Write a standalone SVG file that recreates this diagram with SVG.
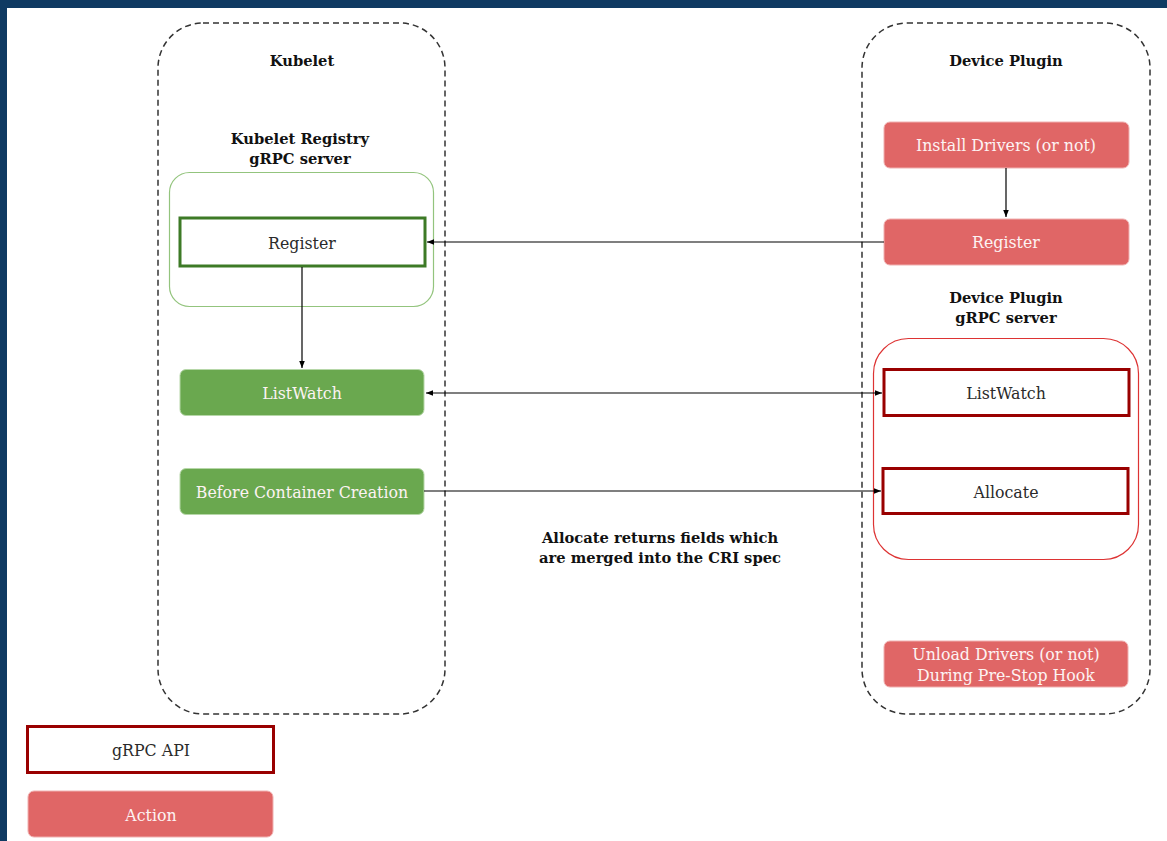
<svg xmlns="http://www.w3.org/2000/svg" width="1167" height="841" viewBox="0 0 1167 841">
<defs>
<marker id="ah" viewBox="0 0 10 10" refX="10" refY="5" markerWidth="7" markerHeight="7" orient="auto-start-reverse" markerUnits="userSpaceOnUse">
<path d="M0,1 L10,5 L0,9 z" fill="#000"/>
</marker>
<style>
.t{font-family:"DejaVu Serif","Liberation Serif",serif;font-size:15.8px;text-anchor:middle;dominant-baseline:central;fill:#2a2a2a}
.b{font-weight:bold;fill:#111;font-size:14.7px}
.w{fill:#fdf3f3}
.dash{fill:none;stroke:#333;stroke-width:1.5;stroke-dasharray:6 4}
.act{fill:#e06666;stroke:#f0b0b0;stroke-width:1}
.grn{fill:#6aa84f;stroke:#b6d7a8;stroke-width:1}
.api{fill:#fff;stroke:#990000;stroke-width:3}
.c{fill:none;stroke:#000;stroke-width:1.2}
</style>
</defs>
<rect x="0" y="0" width="1167" height="841" fill="#0f3a62"/>
<rect x="7" y="8" width="1160" height="833" fill="#ffffff"/>

<g id="kubelet">
<rect class="dash" x="158" y="23" width="287" height="691" rx="45"/>
<text class="t b" x="302" y="60">Kubelet</text>
</g>
<g id="kubelet-registry">
<text class="t b" x="300" y="138">Kubelet Registry</text>
<text class="t b" x="300" y="158">gRPC server</text>
<rect x="169.5" y="172.5" width="264" height="134" rx="20" fill="none" stroke="#93c47d" stroke-width="1.2"/>
</g>
<g id="k-register">
<rect x="180" y="218" width="245" height="48" fill="#fff" stroke="#3d7a26" stroke-width="3"/>
<text class="t" x="302" y="243">Register</text>
</g>
<g id="k-listwatch">
<rect class="grn" x="180" y="369.5" width="244" height="46" rx="6"/>
<text class="t w" x="302" y="393">ListWatch</text>
</g>
<g id="k-before">
<rect class="grn" x="180" y="468.5" width="244" height="46" rx="6"/>
<text class="t w" x="302" y="492">Before Container Creation</text>
</g>

<g id="device-plugin">
<rect class="dash" x="862" y="23" width="288" height="691" rx="45"/>
<text class="t b" x="1006" y="60">Device Plugin</text>
</g>
<g id="d-install">
<rect class="act" x="884" y="122" width="245" height="46" rx="6"/>
<text class="t w" x="1006" y="145">Install Drivers (or not)</text>
</g>
<g id="d-register">
<rect class="act" x="884" y="219" width="245" height="46" rx="6"/>
<text class="t w" x="1006" y="242">Register</text>
</g>
<g id="dp-server">
<text class="t b" x="1006" y="297">Device Plugin</text>
<text class="t b" x="1006" y="317">gRPC server</text>
<rect x="873.5" y="338.5" width="265" height="221" rx="35" fill="none" stroke="#dd3333" stroke-width="1.2"/>
</g>
<g id="d-listwatch">
<rect class="api" x="884" y="369.5" width="245" height="46"/>
<text class="t" x="1006" y="393">ListWatch</text>
</g>
<g id="d-allocate">
<rect class="api" x="883" y="468.5" width="245" height="45"/>
<text class="t" x="1006" y="492">Allocate</text>
</g>
<g id="d-unload">
<rect class="act" x="884" y="641" width="244" height="46" rx="6"/>
<text class="t w" x="1006" y="654">Unload Drivers (or not)</text>
<text class="t w" x="1006" y="675">During Pre-Stop Hook</text>
</g>

<g id="note">
<text class="t b" x="660" y="537">Allocate returns fields which</text>
<text class="t b" x="660" y="557">are merged into the CRI spec</text>
</g>

<g id="legend-api">
<rect class="api" x="27.5" y="726.5" width="246" height="46"/>
<text class="t" x="151" y="750">gRPC API</text>
</g>
<g id="legend-action">
<rect class="act" x="28" y="791" width="245" height="46" rx="6"/>
<text class="t w" x="151" y="815">Action</text>
</g>

<g id="connectors">
<line class="c" x1="1006" y1="168" x2="1006" y2="217" marker-end="url(#ah)"/>
<line class="c" x1="884" y1="242" x2="427" y2="242" marker-end="url(#ah)"/>
<line class="c" x1="302" y1="267" x2="302" y2="368" marker-end="url(#ah)"/>
<line class="c" x1="426" y1="393" x2="882" y2="393" marker-start="url(#ah)" marker-end="url(#ah)"/>
<line class="c" x1="424" y1="491" x2="881" y2="491" marker-end="url(#ah)"/>
</g>
</svg>
